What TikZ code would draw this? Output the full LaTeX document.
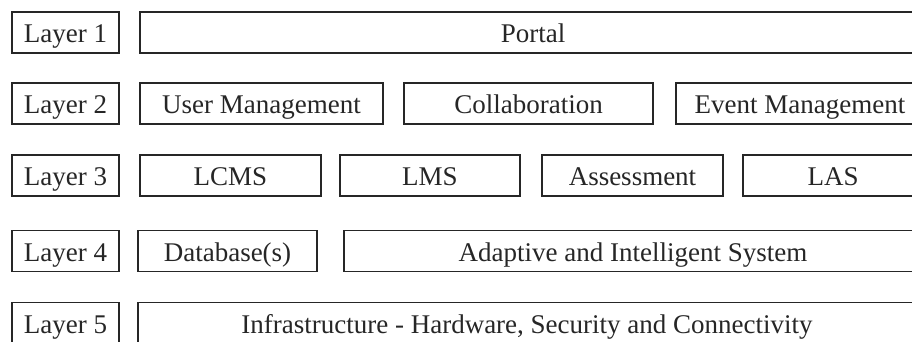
\documentclass[tikz,border=0pt]{standalone}
\usepackage{fontspec}
\setmainfont{Liberation Serif}
\begin{document}
\begin{tikzpicture}[x=1pt,y=-1pt,
  box/.style={draw=black!85, line width=1.4pt, inner sep=0pt, minimum height=41pt,
              text height=20pt, text depth=0pt,
              font=\fontsize{27}{30}\selectfont, text=black!85},
  layerbox/.style={box, minimum width=107pt}]
  \useasboundingbox (0,0) rectangle (912,341);
  \clip (0,0) rectangle (912,341);
  % layer labels
  \node[layerbox] (l1) at (65.5,32.5) {Layer 1};
  \node[layerbox] (l2) at (65.5,103.5) {Layer 2};
  \node[layerbox] (l3) at (65.5,175.5) {Layer 3};
  \node[layerbox] (l4) at (65.5,251) {Layer 4};
  \node[layerbox] (l5) at (65.5,323) {Layer 5};
  % layer 1
  \node[box, minimum width=786pt] (portal) at (533,32.5) {Portal};
  % layer 2
  \node[box, minimum width=243pt] (user) at (261.5,103.5) {User Management};
  \node[box, minimum width=249pt] (collab) at (528.5,103.5) {Collaboration};
  \node[box, minimum width=248pt] (event) at (800,103.5) {Event Management};
  % layer 3
  \node[box, minimum width=181pt] (lcms) at (230.5,175.5) {LCMS};
  \node[box, minimum width=180pt] (lms) at (430,175.5) {LMS};
  \node[box, minimum width=181pt] (assess) at (632.5,175.5) {Assessment};
  \node[box, minimum width=180pt] (las) at (833,175.5) {LAS};
  % layer 4
  \node[box, minimum width=179pt] (db) at (227.5,251) {Database(s)};
  \node[box, minimum width=578pt] (ais) at (633,251) {Adaptive and Intelligent System};
  % layer 5
  \node[box, minimum width=778pt] (infra) at (527,323) {Infrastructure - Hardware, Security and Connectivity};
\end{tikzpicture}
\end{document}
